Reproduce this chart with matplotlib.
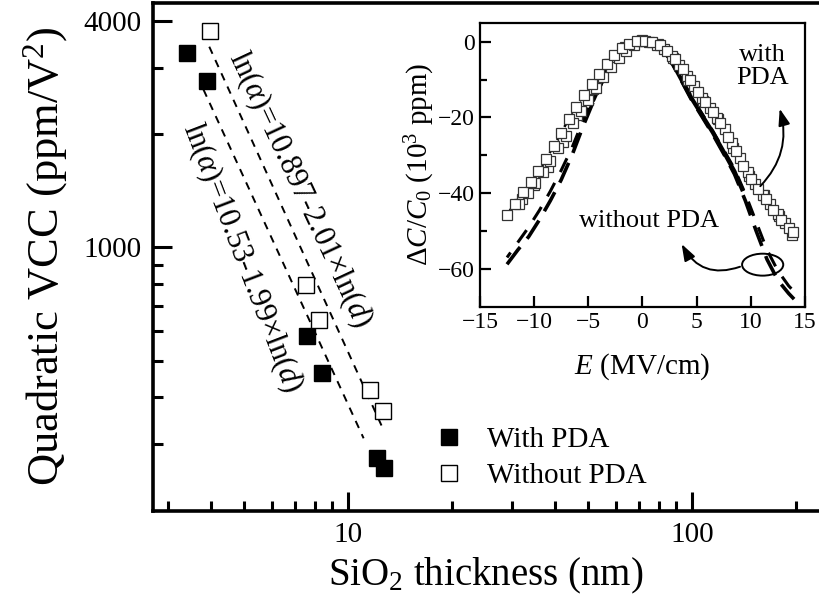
import matplotlib
matplotlib.use("Agg")
import numpy as np
import matplotlib.pyplot as plt
from matplotlib.patches import Ellipse
from matplotlib.ticker import FixedLocator, FixedFormatter, NullFormatter

plt.rcParams['font.family'] = ['Liberation Serif', 'DejaVu Serif']
plt.rcParams['mathtext.fontset'] = 'custom'
plt.rcParams['mathtext.rm'] = 'Liberation Serif'
plt.rcParams['mathtext.it'] = 'Liberation Serif:italic'

# main plot: VCC vs oxide thickness
d_with = [3.40, 3.90, 7.59, 8.42, 12.1, 12.75]
vcc_with = [3280, 2770, 583, 464, 275, 260]
d_without = [3.97, 7.55, 8.24, 11.6, 12.6]
vcc_without = [3770, 796, 640, 418, 367]

# fitted lines ln(a) = A - B*ln(d)
fit_with = (10.53, 1.99)
fit_with_range = [3.8, 11.1]
fit_without = (10.897, 2.01)
fit_without_range = [3.95, 12.7]

# inset: dC/C0 vs E, with PDA (squares)
E_a = [-12.5, -11.8, -11.0, -10.3, -9.6, -8.9, -8.2, -7.5, -6.8, -6.1, -5.4, -4.7,
       -4.0, -3.3, -2.6, -1.9, -1.2, -0.5, 0.2, 0.9, 1.6, 2.3, 3.0, 3.7, 4.4, 5.1,
       5.8, 6.5, 7.2, 7.9, 8.6, 9.3, 10.0, 10.7, 11.4, 12.1, 12.8, 13.5, 13.9]
c_a = [-45.7, -42.8, -39.8, -37.2, -34.2, -31.0, -27.6, -24.0, -20.5, -17.2, -14.0, -11.2,
       -8.6, -6.0, -3.6, -1.8, -0.6, 0.2, 0.3, -0.2, -1.0, -2.5, -4.6, -7.2, -10.2, -13.2,
       -16.0, -18.6, -21.5, -25.2, -29.0, -32.8, -36.2, -39.0, -41.6, -44.4, -47.0, -49.2, -50.4]
E_b = [-11.4, -10.6, -9.9, -9.2, -8.5, -7.8, -7.1, -6.4, -5.7, -5.0, -4.3, -3.6,
       -2.9, -2.2, -1.5, -0.8, -0.1, 0.6, 1.3, 2.0, 2.7, 3.4, 4.1, 4.8, 5.5, 6.2,
       6.9, 7.6, 8.3, 9.0, 9.7, 10.4, 11.1, 11.8, 12.5, 13.2, 13.8]
c_b = [-43.0, -40.0, -37.4, -34.5, -31.4, -28.2, -24.8, -21.6, -18.4, -15.4, -12.2, -9.4,
       -6.8, -4.4, -2.4, -0.8, 0.1, -0.1, -0.9, -2.0, -3.8, -6.2, -9.0, -11.8, -14.8, -17.5,
       -20.2, -23.0, -26.8, -30.6, -34.4, -37.6, -40.4, -43.0, -45.4, -48.0, -51.0]
E_c = [-11.1, -10.0, -8.7, -7.3, -6.0, -4.6, -3.1, -1.6, 0.0, 1.4, 2.8, 4.2,
       5.6, 7.0, 8.4, 9.8, 11.2, 12.6]
c_c = [-41.5, -37.8, -33.0, -26.5, -19.5, -12.5, -5.8, -1.5, 0.4, -0.6, -4.2, -10.0,
       -15.8, -20.5, -28.0, -35.5, -40.5, -46.0]

# inset: without PDA (dashed / solid curves)
E_wo = [-12.5, -11.5, -10.5, -9.5, -8.5, -7.5, -6.5, -5.5, -4.5, -3.5, -2.5, -1.5, -0.5,
        0.5, 1.5, 2.5, 3.5, 4.5, 5.5, 6.5, 7.5, 8.5, 9.5, 10.5, 11.5, 12.5, 13.5, 14.0]
c_wo1 = [-58.8, -55.0, -51.5, -47.0, -42.0, -36.5, -30.0, -22.5, -15.6, -9.2, -4.2, -1.4, -0.3,
         -0.3, -1.4, -4.4, -9.8, -15.2, -19.8, -24.5, -29.6, -35.0, -42.0, -50.0, -57.5, -63.0, -66.5, -68.0]
c_wo2 = [-57.0, -53.0, -49.0, -44.5, -39.5, -34.0, -28.0, -21.0, -14.6, -8.6, -3.9, -1.2, -0.1,
         -0.1, -1.2, -4.0, -9.2, -14.4, -19.0, -23.6, -28.6, -33.6, -40.2, -47.6, -55.0, -60.5, -64.5, -66.0]
E_solid = [-4.5, -3.5, -2.5, -1.5, -0.5, 0.5, 1.5, 2.5, 3.5, 4.5, 5.5, 6.5, 7.5, 8.5, 9.2]
c_solid = [-15.2, -9.0, -4.1, -1.3, -0.2, -0.2, -1.3, -4.2, -9.5, -14.8, -19.4, -24.0, -29.1, -34.3, -39.0]

fig = plt.figure(figsize=(8.19, 6.09), dpi=100)
ax = fig.add_axes([0.1868, 0.1617, 0.8132, 0.8333])

for A, B, rng in [(fit_with[0], fit_with[1], fit_with_range),
                  (fit_without[0], fit_without[1], fit_without_range)]:
    dd = np.geomspace(rng[0], rng[1], 50)
    ax.plot(dd, np.exp(A - B * np.log(dd)), color='black', lw=1.4, ls=(0, (4, 3.5)))

ax.plot(d_with, vcc_with, 's', ms=12, mfc='black', mec='black', label='With PDA')
ax.plot(d_without, vcc_without, 's', ms=12, mfc='white', mec='black', mew=1.0,
        label='Without PDA')

ax.set_xscale('log')
ax.set_yscale('log')
ax.set_xlim(2.71, 234)
ax.set_ylim(200, 4460)

ax.xaxis.set_major_locator(FixedLocator([10, 100]))
ax.xaxis.set_minor_locator(FixedLocator([3, 4, 5, 6, 7, 8, 9, 20, 30, 40, 50, 60, 70, 80, 90, 200]))
ax.yaxis.set_major_locator(FixedLocator([1000, 4000]))
ax.yaxis.set_minor_locator(FixedLocator([300, 400, 500, 600, 700, 800, 900, 2000, 3000]))
ax.xaxis.set_major_formatter(FixedFormatter(['10', '100']))
ax.yaxis.set_major_formatter(FixedFormatter(['1000', '4000']))
ax.xaxis.set_minor_formatter(NullFormatter())
ax.yaxis.set_minor_formatter(NullFormatter())
ax.tick_params(which='major', direction='in', length=14, width=2.2, labelsize=21, pad=8)
ax.tick_params(which='minor', direction='in', length=7.5, width=2.2)
ax.tick_params(top=False, right=False)
for s in ['left', 'bottom', 'top']:
    ax.spines[s].set_linewidth(2.6)
ax.spines['right'].set_visible(False)

ax.set_xlabel('SiO$_2$ thickness (nm)', fontsize=28, labelpad=6)
ax.set_ylabel('Quadratic VCC (ppm/V$^2$)', fontsize=32, labelpad=10)

ax.text(7.25, 1423, r'ln($\alpha$)=10.897-2.01$\times$ln($d$)', fontsize=22,
        rotation=-65, rotation_mode='anchor', ha='center', va='center')
ax.text(4.92, 939, r'ln($\alpha$)=10.53-1.99$\times$ln($d$)', fontsize=22,
        rotation=-69, rotation_mode='anchor', ha='center', va='center')

ax.legend(loc='upper left', bbox_to_anchor=(0.422, 0.165), frameon=False, fontsize=21,
          handlelength=1.0, handletextpad=0.8, labelspacing=0.32, borderpad=0,
          borderaxespad=0)

# inset
ins = fig.add_axes([0.586, 0.4964, 0.3968, 0.4663])
ins.plot(E_wo, c_wo1, color='black', lw=2.6, ls=(0, (6, 3)))
ins.plot(E_wo, c_wo2, color='black', lw=2.2, ls=(3, (5, 4)))
ins.plot(E_solid, c_solid, color='black', lw=3.0)
ins.plot(E_a, c_a, color='black', lw=1.8, ls=(0, (3, 3)))
for E, c in [(E_c, c_c), (E_b, c_b), (E_a, c_a)]:
    ins.plot(E, c, 's', ms=6.5, mfc='white', mec='#333333', mew=0.9)

ins.set_xlim(-15, 15)
ins.set_ylim(-70, 5)
ins.set_xticks([-15, -10, -5, 0, 5, 10, 15])
ins.set_yticks([0, -20, -40, -60])
ins.set_yticks([-10, -30, -50], minor=True)
ins.tick_params(which='major', direction='in', length=8, width=1.6, labelsize=17, pad=4)
ins.tick_params(which='minor', direction='in', length=5, width=1.6)
for s in ins.spines.values():
    s.set_linewidth(1.6)
ins.set_xlabel('$E$ (MV/cm)', fontsize=21, labelpad=13)
ins.set_ylabel(r'$\Delta C/C_0$ (10$^3$ ppm)', fontsize=21, labelpad=0)

ins.text(11.1, -6.5, 'with\nPDA', fontsize=19, ha='center', va='center', linespacing=1.05)
ins.text(0.6, -47.5, 'without PDA', fontsize=19, ha='center', va='center')
ins.add_patch(Ellipse((11.1, -58.9), 3.8, 5.8, fill=False, ec='black', lw=1.4))
ins.annotate('', xy=(12.6, -17.0), xytext=(10.7, -38.7),
             arrowprops=dict(arrowstyle='-|>,head_length=1.0,head_width=0.35',
                             color='black', lw=1.4, connectionstyle='arc3,rad=0.3'))
ins.annotate('', xy=(3.5, -52.8), xytext=(9.25, -59.2),
             arrowprops=dict(arrowstyle='-|>,head_length=1.0,head_width=0.35',
                             color='black', lw=1.4, connectionstyle='arc3,rad=-0.45'))

fig.savefig('out.png', dpi=100)
